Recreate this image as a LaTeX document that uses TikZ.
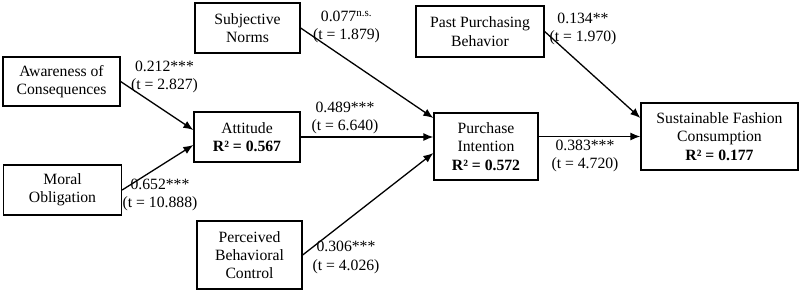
\documentclass[tikz,border=0pt]{standalone}
\usepackage{fontspec}
\setmainfont{Liberation Serif}
\usetikzlibrary{arrows.meta}

\begin{document}
\begin{tikzpicture}[x=1pt,y=-1pt,
  font=\fontsize{15.7}{18.3}\selectfont,
  box/.style={draw,line width=1.3pt,align=center,inner sep=0pt},
  path/.style={line width=1.3pt,-{Latex[length=10pt,width=8pt]}},
  coef/.style={align=center,inner sep=0pt}]
\useasboundingbox (0,0) rectangle (800,293);

% constructs
\node[box,minimum width=117pt,minimum height=49pt] (ac) at (61.5,81.5) {Awareness of\\Consequences};
\node[box,minimum width=118pt,minimum height=50pt] (mo) at (62.5,190) {Moral\\Obligation};
\node[box,minimum width=106pt,minimum height=50pt] (att) at (247,137) {Attitude\\\textbf{R² = 0.567}};
\node[box,minimum width=105pt,minimum height=50pt] (sn) at (247.5,28) {Subjective\\Norms};
\node[box,minimum width=105pt,minimum height=68pt] (pbc) at (249.5,255) {Perceived\\Behavioral\\Control};
\node[box,minimum width=128pt,minimum height=51pt] (ppb) at (480,31.5) {Past Purchasing\\Behavior};
\node[box,minimum width=104pt,minimum height=67pt] (pi) at (486,146.5) {Purchase\\Intention\\\textbf{R² = 0.572}};
\node[box,minimum width=157pt,minimum height=67pt] (sfc) at (719.5,136.5) {Sustainable Fashion\\Consumption\\\textbf{R² = 0.177}};

% paths
\draw[path] (ac.east) -- ([yshift=7pt]att.west);
\draw[path] (mo.east) -- ([yshift=-8pt]att.west);
\draw[path] (att.east) -- (att.east -| pi.west);
\draw[path] (sn.east) -- ([yshift=28.5pt]pi.west);
\draw[path] (pbc.east) -- ([yshift=-6.5pt]pi.west);
\draw[path] (ppb.east) -- ([yshift=18.5pt]sfc.west);
\draw[path] (pi.east |- sfc.west) -- (sfc.west);

% coefficients
\node[coef] (c1) at (164.5,77) {0.212***\\(t = 2.827)};
\node[coef] (c2) at (160,195) {0.652***\\(t = 10.888)};
\node[coef] (c3) at (346.5,27) {0.077\textsuperscript{n.s.}\\(t = 1.879)};
\node[coef] (c4) at (345,118) {0.489***\\(t = 6.640)};
\node[coef] (c5) at (346,257.5) {0.306***\\(t = 4.026)};
\node[coef] (c6) at (583,29) {0.134**\\(t = 1.970)};
\node[coef] (c7) at (585,156) {0.383***\\(t = 4.720)};
\end{tikzpicture}
\end{document}
